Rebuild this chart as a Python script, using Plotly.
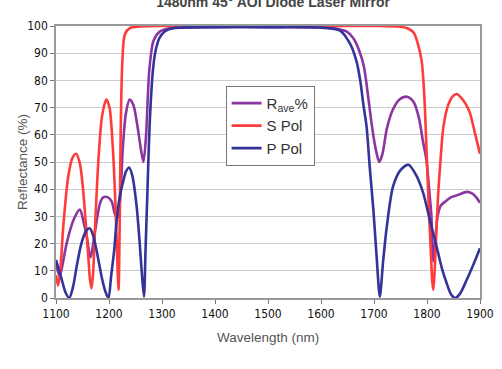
import plotly.graph_objects as go

# S Pol
s_wl = [1100, 1104, 1108, 1114, 1123, 1131, 1138, 1145, 1151, 1156, 1161, 1164, 1167, 1170, 1174, 1180, 1187, 1195, 1201, 1207, 1212, 1215, 1218,
        1220, 1222, 1225, 1230, 1240, 1260, 1300, 1400, 1500, 1600, 1700, 1750, 1765, 1775, 1782, 1790, 1795, 1799, 1803, 1807, 1810, 1812,
        1815, 1818, 1821, 1826, 1831, 1840, 1848, 1856, 1865, 1874, 1881, 1890, 1900]
s_val = [8.5, 4.5, 10, 27, 44.5, 51.5, 53, 49.5, 40, 28, 15, 7, 3.5, 9, 27.5, 50.6, 67, 73, 70, 56, 35, 18, 3,
         25, 60, 86, 97, 99.3, 99.8, 100, 100, 100, 100, 100, 99.7, 99, 97.5, 94, 87, 74, 55, 35, 18, 6, 3,
         12, 26, 38, 52, 63, 71, 74, 75, 73.5, 71, 68, 61, 53]

# R ave
r_wl = [1100, 1107, 1113, 1120, 1133, 1145, 1152, 1158, 1165, 1174, 1183, 1189, 1198, 1205, 1211, 1216, 1221, 1226, 1232, 1239, 1246,
        1253, 1260, 1265, 1270, 1276, 1284, 1296, 1310, 1330, 1400, 1500, 1600, 1630, 1648, 1661, 1672, 1681, 1689, 1697, 1704, 1710,
        1716, 1724, 1735, 1748, 1762, 1775, 1785, 1792, 1799, 1804, 1808, 1812, 1816, 1820, 1826, 1835, 1845, 1860, 1875, 1885, 1893, 1900]
r_val = [12.5, 8, 13, 20, 28.7, 32.5, 28, 22.6, 15, 25, 34.8, 37, 37, 35.5, 31, 29.5, 36, 55, 68, 73, 71,
         64, 55, 50, 60, 83.6, 94.6, 98, 99, 99.4, 99.6, 99.6, 99.5, 99, 98, 95.5, 91, 85, 74, 62, 54, 50,
         53, 62, 69, 73, 74, 72, 66, 58, 50.6, 40, 31, 13.5, 22, 30, 34, 35.5, 37, 38, 39, 38.5, 37, 35]

# P Pol
p_wl = [1100, 1106, 1111, 1118, 1125, 1132, 1139, 1146, 1152, 1158, 1164, 1170, 1176, 1181, 1187, 1193, 1199, 1204, 1210, 1214, 1220,
        1227, 1232, 1238, 1244, 1252, 1258, 1262, 1266, 1269, 1272, 1277, 1283, 1288, 1295, 1305, 1320, 1400, 1500, 1600, 1636, 1655,
        1667, 1674, 1680, 1686, 1692, 1699, 1705, 1711, 1717, 1724, 1736, 1750, 1765, 1780, 1793, 1805, 1818, 1828, 1837, 1845, 1853,
        1862, 1875, 1888, 1900]
p_val = [14, 10, 6.7, 2, 0, 4, 11.6, 18.5, 22.6, 25, 25.6, 23, 18, 13, 7, 2.5, 0, 8, 18, 27.5, 37,
         43, 46.5, 48, 45, 34, 20, 9, 0.5, 18, 36, 65, 84, 91, 95.5, 98, 99.2, 99.6, 99.6, 99.4, 98.3, 93.4,
         87, 80, 71, 63, 48, 32, 15, 0.5, 13, 26, 41, 47, 49, 45, 38.5, 29, 19, 11, 5.5, 1.5, 0,
         1.5, 6.7, 12.5, 18.3]

x_ticks = [1100, 1200, 1300, 1400, 1500, 1600, 1700, 1800, 1900]
y_ticks = [0, 10, 20, 30, 40, 50, 60, 70, 80, 90, 100]

narrow = "DejaVu Sans Condensed, Liberation Sans Narrow, sans-serif"
sans = "Liberation Sans, Arial, sans-serif"

fig = go.Figure()
fig.add_trace(go.Scatter(x=r_wl, y=r_val, mode="lines", name="R<sub>ave</sub>%",
                         line=dict(color="#8B35A0", width=2.6, shape="spline", smoothing=0.8)))
fig.add_trace(go.Scatter(x=s_wl, y=s_val, mode="lines", name="S Pol",
                         line=dict(color="#FF3B3B", width=2.6, shape="spline", smoothing=0.8)))
fig.add_trace(go.Scatter(x=p_wl, y=p_val, mode="lines", name="P Pol",
                         line=dict(color="#33339A", width=2.6, shape="spline", smoothing=0.8)))

fig.update_layout(
    width=502, height=369,
    margin=dict(l=56, r=22, t=26, b=71, autoexpand=False),
    paper_bgcolor="white", plot_bgcolor="white",
    title=dict(text="<b>1480nm 45° AOI Diode Laser Mirror</b>", x=0.544, xanchor="center",
               y=0.994, yanchor="middle", font=dict(family=sans, size=14, color="#444")),
    legend=dict(x=0.40, y=0.78, xanchor="left", yanchor="top",
                bgcolor="white", bordercolor="#777", borderwidth=1,
                font=dict(family=sans, size=15, color="#333"), tracegroupgap=0),
    showlegend=True,
    annotations=[
        dict(text="Reflectance (%)", xref="paper", yref="paper", x=-0.080, y=0.5,
             xanchor="center", yanchor="middle", textangle=-90, showarrow=False,
             font=dict(family=sans, size=13.5, color="#555")),
        dict(text="Wavelength (nm)", xref="paper", yref="paper", x=0.5, y=-0.145,
             xanchor="center", yanchor="middle", showarrow=False,
             font=dict(family=sans, size=13.5, color="#555")),
    ],
)
fig.update_xaxes(range=[1100, 1900], tickvals=x_ticks, ticktext=[str(v) for v in x_ticks], automargin=False,
                 showgrid=False, zeroline=False, showline=True, linecolor="#999", linewidth=1.5, mirror=True,
                 ticks="outside", ticklen=4, tickcolor="#777",
                 tickfont=dict(family=narrow, size=12, color="#111"))
fig.update_yaxes(range=[0, 100], tickvals=y_ticks, ticktext=[str(v) for v in y_ticks], automargin=False,
                 showgrid=True, gridcolor="#CCCCCC", gridwidth=1, zeroline=False,
                 showline=True, linecolor="#999", linewidth=1.5, mirror=True,
                 ticks="outside", ticklen=4, tickcolor="#777",
                 tickfont=dict(family=narrow, size=12, color="#111"))

fig.write_html("out.html", config={"displayModeBar": False},
               post_script="document.body.style.margin='0';")
